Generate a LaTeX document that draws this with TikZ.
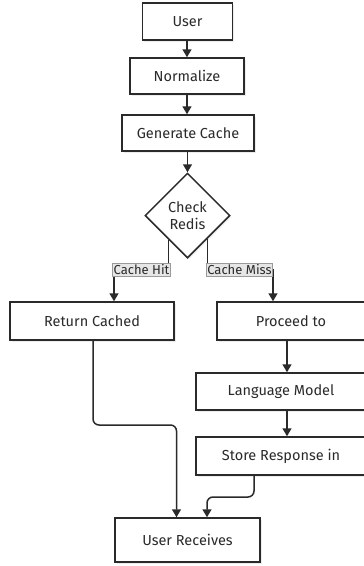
\documentclass[tikz,border=0pt]{standalone}
\usepackage{fontspec}
\setmainfont{Fira Sans}
\usetikzlibrary{shapes.geometric,arrows.meta,calc,shadows}
\definecolor{ink}{HTML}{2A2A2A}
\definecolor{lblbg}{HTML}{E6E6E6}
\definecolor{lblbd}{HTML}{9A9A9A}
\begin{document}
\begin{tikzpicture}[x=1pt,y=-1pt,
  box/.style={draw=ink,line width=1.5pt,fill=white,text=ink,inner sep=0pt,
    font=\fontsize{14.5}{16}\selectfont,
    drop shadow={shadow xshift=1.5pt,shadow yshift=-1.5pt,opacity=0.15}},
  dia/.style={box,diamond,aspect=1,minimum width=85pt,minimum height=85pt,align=center,
    font=\fontsize{14.5}{17}\selectfont},
  lbl/.style={draw=lblbd,fill=lblbg,text=ink,inner xsep=1pt,inner ysep=1.5pt,line width=0.7pt,
    font=\fontsize{13}{14}\selectfont},
  arr/.style={draw=ink,line width=1.5pt,-{Triangle[length=8pt,width=9pt]}},
  arrr/.style={arr,rounded corners=6pt}]
\useasboundingbox (0,0) rectangle (364,566);
\node[box,minimum width=90pt,minimum height=37pt] (user) at (187.5,21.5) {User};
\node[box,minimum width=114pt,minimum height=36pt] (norm) at (187,76) {Normalize};
\node[box,minimum width=132pt,minimum height=36pt] (gen) at (188,133) {Generate Cache};
\node[dia] (check) at (187.5,215.5) {Check\\Redis};
\node[box,minimum width=164pt,minimum height=38pt] (ret) at (92,321) {Return Cached};
\node[box,minimum width=148pt,minimum height=38pt] (proc) at (291,321) {Proceed to};
\node[box,minimum width=170pt,minimum height=37pt] (lang) at (281,391.5) {Language Model};
\node[box,minimum width=170pt,minimum height=38pt] (store) at (281,456) {Store Response in};
\node[box,minimum width=145pt,minimum height=44pt] (recv) at (187.5,540) {User Receives};

\draw[arr] (user.south -| 187,0) -- (norm.north -| 187,0);
\draw[arr] (norm.south -| 187,0) -- (gen.north -| 187,0);
\draw[arr] (gen.south -| 187.5,0) -- (check.north);

\coordinate (cl) at ($(check.south)!0.435!(check.west)$);
\coordinate (cr) at ($(check.south)!0.46!(check.east)$);
\draw[arr] (cl) -- (cl |- 0,270) -- (114,270) -- (ret.north -| 114,0);
\draw[arr] (cr) -- (cr |- 0,270) -- (273,270) -- (proc.north -| 273,0);
\node[lbl] (hit) at (141.5,270) {Cache Hit};
\node[lbl] (miss) at (239.5,270) {Cache Miss};

\draw[arr] (proc.south -| 287,0) -- (lang.north -| 287,0);
\draw[arr] (lang.south -| 287,0) -- (store.north -| 287,0);
\draw[arrr] (ret.south -| 93,0) -- (93,425) -- (176.5,425) -- (recv.north -| 176.5,0);
\draw[arrr] (store.south -| 254,0) -- (254,497) -- (207,497) -- (recv.north -| 207,0);
\end{tikzpicture}
\end{document}
